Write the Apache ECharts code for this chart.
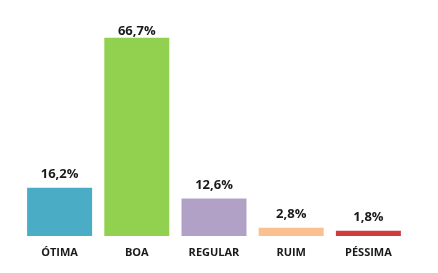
<!DOCTYPE html>
<html><head><meta charset="utf-8">
<script src="https://cdn.jsdelivr.net/npm/echarts@6/dist/echarts.min.js"></script>
<style>html,body{margin:0;padding:0;background:#fff}#c{width:438px;height:273px}</style>
</head><body><div id="c"></div>
<script>
const categories = ['ÓTIMA','BOA','REGULAR','RUIM','PÉSSIMA'];
const values = [16.2, 66.7, 12.6, 2.8, 1.8];
const colors = ['#4BACC6','#92D050','#B2A1C7','#FAC090','#D03A3A'];
const labelGaps = [7, 0, 7, 7, 7];
const chart = echarts.init(document.getElementById('c'), null, {renderer:'canvas'});
chart.setOption({
  animation:false,
  backgroundColor:'#fff',
  grid:{left:21,right:31,top:28,bottom:37},
  xAxis:{type:'category',data:categories,axisLine:{show:false},axisTick:{show:false},
    axisLabel:{margin:11,color:'#1a1a1a',fontWeight:'bold',fontSize:11,fontFamily:'Open Sans'}},
  yAxis:{type:'value',min:0,max:70,show:false,splitLine:{show:false}},
  series:[{type:'bar',barWidth:65,
    data:values.map((v,i)=>({value:v,itemStyle:{color:colors[i]},label:{distance:labelGaps[i]}})),
    label:{show:true,position:'top',distance:7,color:'#1a1a1a',fontWeight:'bold',fontSize:13,fontFamily:'Open Sans',
      formatter:p=>p.value.toFixed(1).replace('.',',')+'%'}}]
});
</script></body></html>
